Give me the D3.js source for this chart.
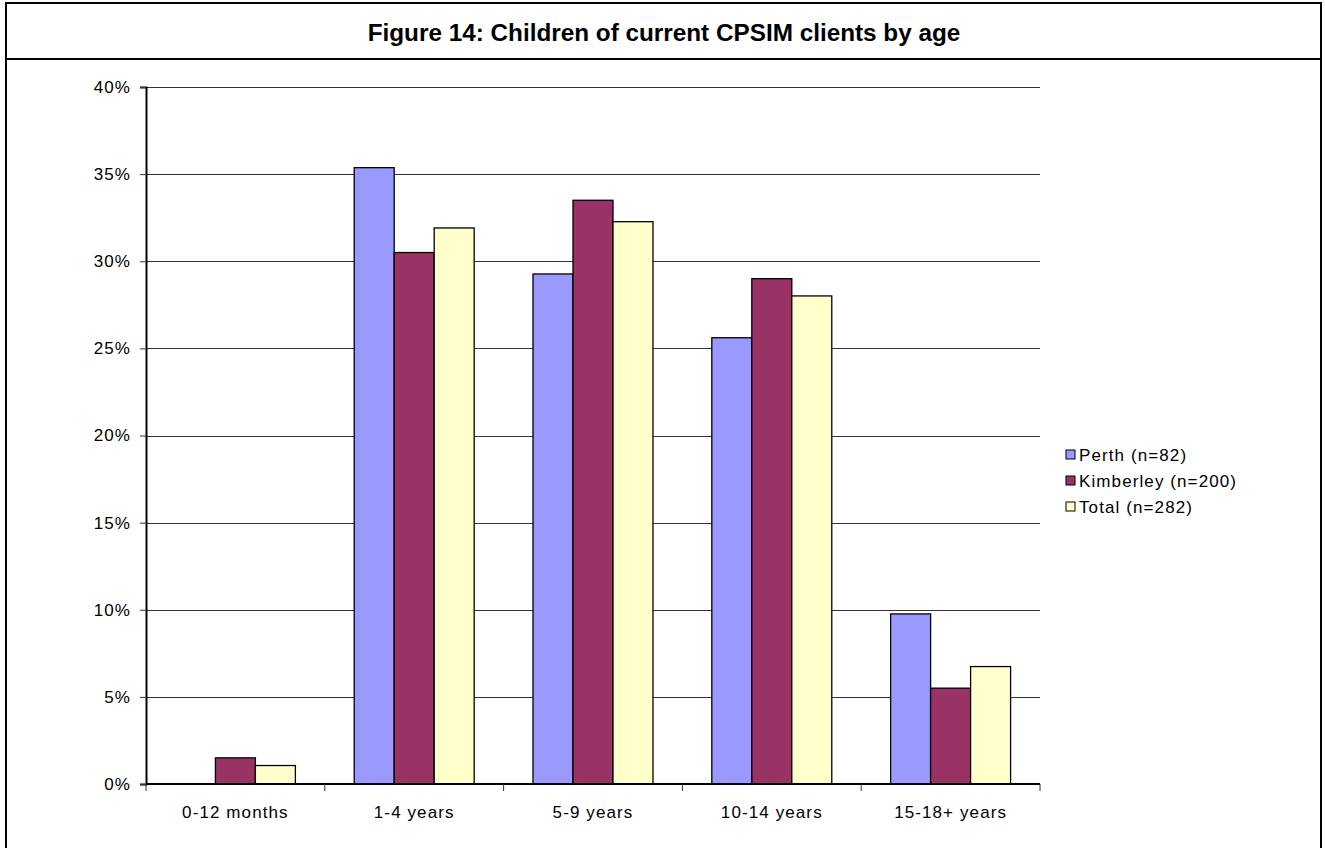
<!DOCTYPE html>
<html>
<head>
<meta charset="utf-8">
<script src="https://cdn.jsdelivr.net/npm/d3@7/dist/d3.min.js"></script>
<style>
  html, body { margin: 0; padding: 0; background: #fff; }
  svg { display: block; }
  text { font-family: "Liberation Sans", Arial, sans-serif; }
</style>
</head>
<body>
<svg id="chart" width="1325" height="848"></svg>
<script>
// Age groups and share of children (%) in each group, per region
const categories = ["0-12 months", "1-4 years", "5-9 years", "10-14 years", "15-18+ years"];
const seriesNames = ["Perth (n=82)", "Kimberley (n=200)", "Total (n=282)"];
const perth = [0, 35.37, 29.27, 25.61, 9.76];
const kimberley = [1.5, 30.5, 33.5, 29.0, 5.5];
const total = [1.06, 31.91, 32.27, 28.01, 6.74];
const yTicks = [0, 5, 10, 15, 20, 25, 30, 35, 40];
const colors = ["#9999FF", "#993366", "#FFFFCC"];

const series = [perth, kimberley, total];

const svg = d3.select("#chart");
const labelSize = 17;
const labelSpacing = "1.1px";

// outer frame and title band
svg.append("rect")
  .attr("x", 6).attr("y", 3).attr("width", 1315).attr("height", 860)
  .attr("fill", "none").attr("stroke", "#000").attr("stroke-width", 2);
svg.append("line")
  .attr("x1", 6).attr("x2", 1321).attr("y1", 59).attr("y2", 59)
  .attr("stroke", "#000").attr("stroke-width", 2);
svg.append("text")
  .attr("x", 664).attr("y", 41)
  .attr("text-anchor", "middle")
  .attr("font-size", 24.3).attr("font-weight", "bold")
  .text("Figure 14: Children of current CPSIM clients by age");

const plot = { left: 146, right: 1040, top: 87, bottom: 784 };

const x = d3.scaleBand()
  .domain(categories)
  .range([plot.left, plot.right])
  .padding(0);

const y = d3.scaleLinear()
  .domain([0, 40])
  .range([plot.bottom, plot.top]);

const inner = d3.scaleBand()
  .domain(d3.range(series.length))
  .range([x.bandwidth() * 0.1645, x.bandwidth() * 0.8355])
  .padding(0);

// horizontal gridlines
svg.append("g")
  .selectAll("line")
  .data(yTicks.filter(t => t > 0))
  .join("line")
  .attr("x1", plot.left).attr("x2", plot.right)
  .attr("y1", d => Math.round(y(d)) + 0.5)
  .attr("y2", d => Math.round(y(d)) + 0.5)
  .attr("stroke", "#333").attr("stroke-width", 1);

// bars
const groups = svg.append("g")
  .selectAll("g")
  .data(series)
  .join("g")
  .attr("fill", (d, i) => colors[i]);

groups.each(function(vals, si) {
  d3.select(this).selectAll("rect")
    .data(vals.map((v, ci) => ({ v, c: categories[ci] })))
    .join("rect")
    .filter(d => d.v > 0)
    .attr("x", d => x(d.c) + inner(si))
    .attr("y", d => y(d.v))
    .attr("width", inner.bandwidth())
    .attr("height", d => y(0) - y(d.v))
    .attr("stroke", "#000").attr("stroke-width", 1.3);
});

// y axis
const yAxis = d3.axisLeft(y)
  .tickValues(yTicks)
  .tickSize(6)
  .tickPadding(9)
  .tickFormat(d => d + "%");
const yg = svg.append("g")
  .attr("transform", `translate(${plot.left},0)`)
  .call(yAxis);
yg.select(".domain").attr("stroke", "#000").attr("stroke-width", 2);
yg.selectAll(".tick line").attr("stroke", "#333");
yg.selectAll(".tick text")
  .attr("font-size", labelSize).attr("fill", "#000")
  .attr("letter-spacing", labelSpacing)
  .attr("font-family", "Liberation Sans, Arial, sans-serif");

// x axis
const xg = svg.append("g")
  .attr("transform", `translate(0,${plot.bottom})`);
xg.append("line")
  .attr("x1", plot.left).attr("x2", plot.right)
  .attr("y1", 0).attr("y2", 0)
  .attr("stroke", "#000").attr("stroke-width", 2);
xg.selectAll("line.sep")
  .data(categories.concat([null]))
  .join("line")
  .attr("class", "sep")
  .attr("x1", d => d === null ? plot.right : x(d))
  .attr("x2", d => d === null ? plot.right : x(d))
  .attr("y1", 0).attr("y2", 7)
  .attr("stroke", "#333").attr("stroke-width", 1);
xg.selectAll("text")
  .data(categories)
  .join("text")
  .attr("x", d => x(d) + x.bandwidth() / 2)
  .attr("y", 34)
  .attr("text-anchor", "middle")
  .attr("font-size", labelSize)
  .attr("letter-spacing", labelSpacing)
  .text(d => d);

// legend
const legend = svg.append("g")
  .attr("transform", "translate(1066,455)");
const items = legend.selectAll("g")
  .data(seriesNames)
  .join("g")
  .attr("transform", (d, i) => `translate(0,${i * 26})`);
items.append("rect")
  .attr("x", 0).attr("y", -5)
  .attr("width", 9).attr("height", 9)
  .attr("fill", (d, i) => colors[i])
  .attr("stroke", "#000").attr("stroke-width", 1);
items.append("text")
  .attr("x", 13).attr("y", 0)
  .attr("dy", "0.35em")
  .attr("font-size", labelSize)
  .attr("letter-spacing", labelSpacing)
  .text(d => d);
</script>
</body>
</html>
